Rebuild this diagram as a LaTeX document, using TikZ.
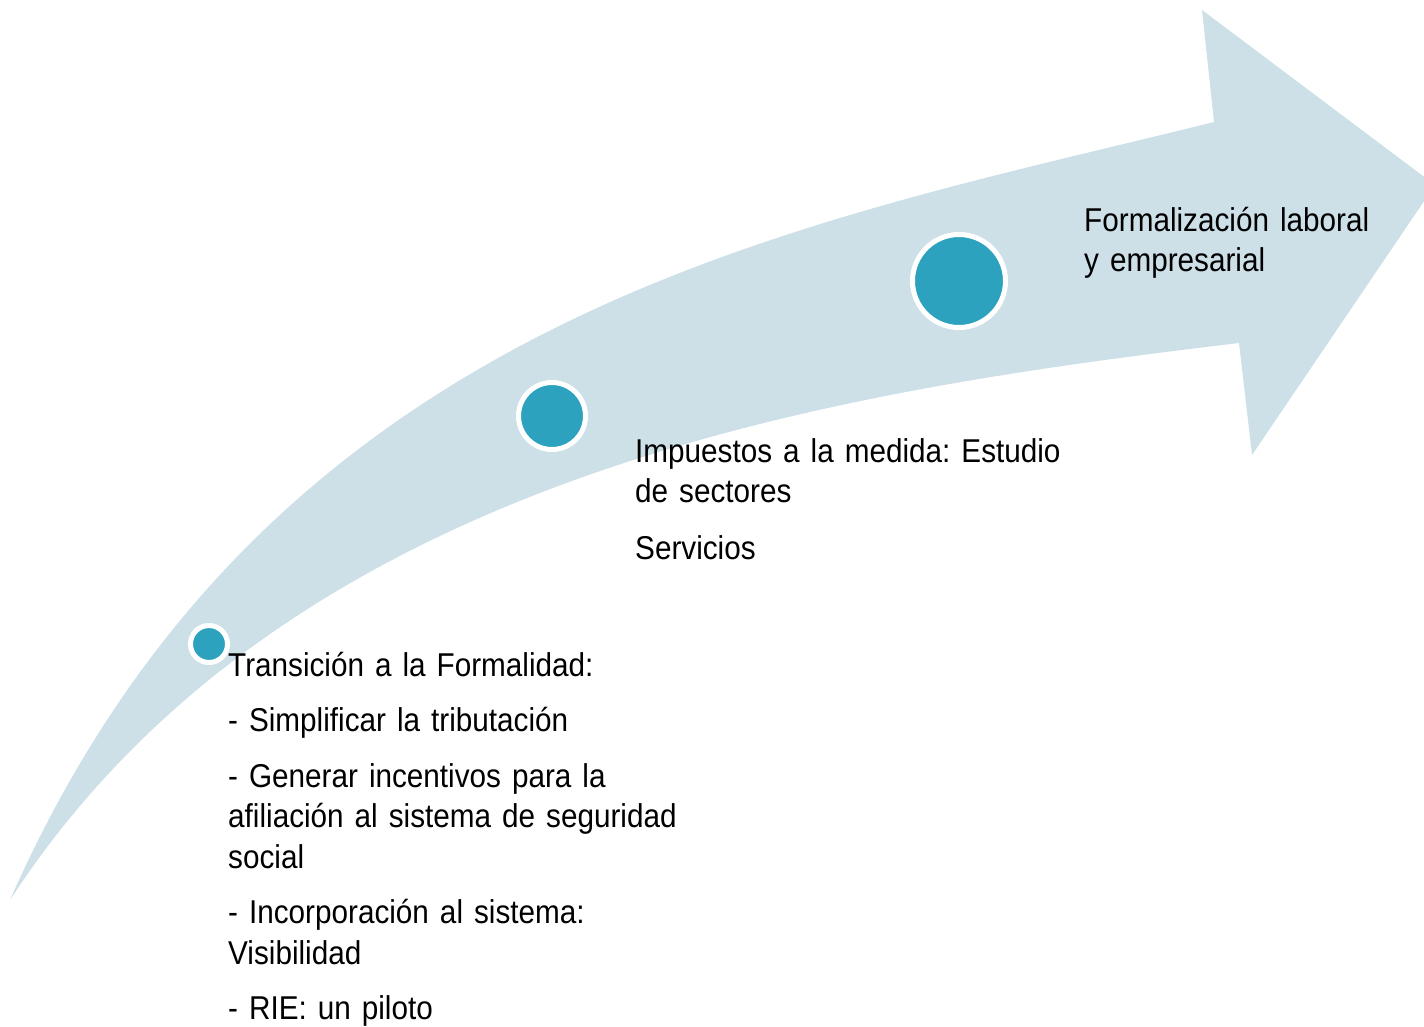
\documentclass[tikz,border=0pt]{standalone}
\usepackage{fontspec}
\setmainfont{Liberation Sans}[FakeStretch=0.9]
\frenchspacing
\definecolor{bandblue}{RGB}{205,224,232}
\definecolor{dotteal}{RGB}{45,162,191}
\begin{document}
\begin{tikzpicture}[x=1pt, y=-1pt,
    dot/.style={circle, draw=white, line width=5pt, fill=dotteal, inner sep=0pt},
    txt/.style={anchor=base west, align=left, text width=#1, inner sep=0pt, font=\fontsize{33}{40.5}\selectfont}]
    \useasboundingbox (0,0) rectangle (1424,1026);
    \clip (0,0) rectangle (1424,1026);
    % curved arrow band
    \fill [bandblue] (10,900) .. controls (270,310) and (800,225) .. (1214,122)
      -- (1202,10) -- (1435,185) -- (1252,455) -- (1239,343)
      .. controls (839,391) and (290,470) .. (10,900) -- cycle;
    % milestones
    \node [dot, minimum size=37pt] (stepA) at (209,644) {};
    \node [dot, minimum size=67pt] (stepB) at (552,416) {};
    \node [dot, minimum size=93pt] (stepC) at (959,281) {};
    % texts
    \node [txt=500pt] (textA) at (228,676) {Transición a la Formalidad:\\[15pt]
      - Simplificar la tributación\\[15pt]
      - Generar incentivos para la\\ afiliación al sistema de seguridad\\ social\\[15pt]
      - Incorporación al sistema:\\ Visibilidad\\[15pt]
      - RIE: un piloto};
    \node [txt=500pt] (textB) at (635,462) {Impuestos a la medida: Estudio\\ de sectores\\[16pt]
      Servicios};
    \node [txt=330pt] (textC) at (1084,231) {Formalización laboral\\ y empresarial};
  \end{tikzpicture}
\end{document}
